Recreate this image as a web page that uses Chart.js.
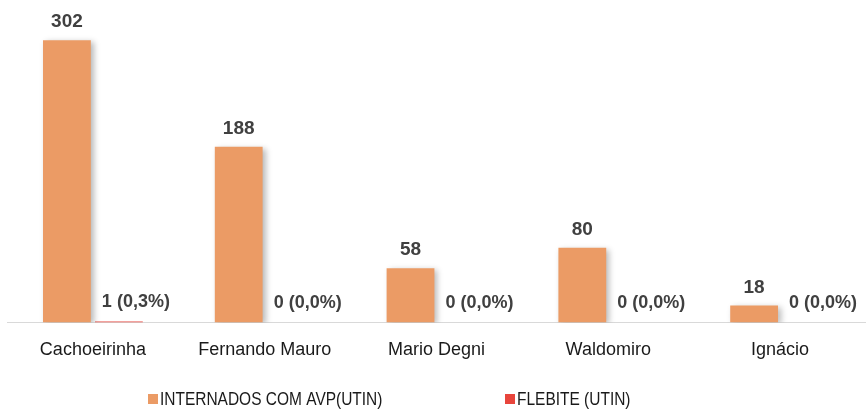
<!DOCTYPE html>
<html>
<head>
<meta charset="utf-8">
<script src="https://cdn.jsdelivr.net/npm/chart.js@4.4.1/dist/chart.umd.min.js"></script>
<style>
  html, body { margin: 0; padding: 0; background: #fff; }
  #wrap { width: 866px; height: 411px; }
</style>
</head>
<body>
<div id="wrap"><canvas id="chart"></canvas></div>
<script>
const categories = ['Cachoeirinha', 'Fernando Mauro', 'Mario Degni', 'Waldomiro', 'Ignácio'];
const internados = [302, 188, 58, 80, 18];
const flebite = [1, 0, 0, 0, 0];
const flebiteLabels = ['1 (0,3%)', '0 (0,0%)', '0 (0,0%)', '0 (0,0%)', '0 (0,0%)'];
const seriesNames = ['INTERNADOS COM AVP(UTIN)', 'FLEBITE (UTIN)'];

const FONT = "'Liberation Sans', Arial, sans-serif";

// soft shadow behind the orange bars
const barShadow = {
    id: 'barShadow',
    beforeDatasetDraw(chart, args) {
        if (args.index !== 0) return;
        const ctx = chart.ctx;
        ctx.save();
        ctx.shadowColor = 'rgba(0,0,0,0.28)';
        ctx.shadowBlur = 6;
        ctx.shadowOffsetX = 3;
        ctx.shadowOffsetY = 2;
    },
    afterDatasetDraw(chart, args) {
        if (args.index !== 0) return;
        chart.ctx.restore();
    }
};

// value labels above the bars
const valueLabels = {
    id: 'valueLabels',
    afterDatasetsDraw(chart) {
        const ctx = chart.ctx;
        ctx.save();
        ctx.font = 'bold 19px ' + FONT;
        ctx.fillStyle = '#404040';
        ctx.textAlign = 'center';
        ctx.textBaseline = 'middle';
        chart.getDatasetMeta(0).data.forEach((bar, i) => {
            ctx.fillText(String(internados[i]), bar.x, bar.y - 18);
        });
        ctx.font = 'bold 18px ' + FONT;
        chart.getDatasetMeta(1).data.forEach((bar, i) => {
            ctx.fillText(flebiteLabels[i], bar.x + 17, bar.y - 19);
        });
        ctx.restore();
    }
};

// legend drawn at the bottom (text a bit condensed like the original)
const bottomLegend = {
    id: 'bottomLegend',
    afterDraw(chart) {
        const ctx = chart.ctx;
        const xs = [148, 505];
        const y = 400;
        const sx = 0.86;
        ctx.save();
        ctx.font = '18px ' + FONT;
        ctx.textBaseline = 'middle';
        ctx.textAlign = 'left';
        chart.data.datasets.forEach((ds, i) => {
            ctx.fillStyle = ds.backgroundColor;
            ctx.fillRect(xs[i], y - 6, 10, 10);
            ctx.save();
            ctx.translate(xs[i] + 12, y);
            ctx.scale(sx, 1);
            ctx.fillStyle = '#1a1a1a';
            ctx.fillText(ds.label, 0, 0);
            ctx.restore();
        });
        ctx.restore();
    }
};

new Chart(document.getElementById('chart'), {
    type: 'bar',
    data: {
        labels: categories,
        datasets: [{
            label: seriesNames[0],
            data: internados,
            backgroundColor: '#EB9B65',
            categoryPercentage: 0.605,
            barPercentage: 0.92
        }, {
            label: seriesNames[1],
            data: flebite,
            backgroundColor: '#E8453C',
            categoryPercentage: 0.605,
            barPercentage: 0.92
        }]
    },
    options: {
        responsive: true,
        maintainAspectRatio: false,
        animation: false,
        layout: { padding: { top: 0, left: 7, right: 0, bottom: 33 } },
        plugins: {
            legend: { display: false },
            tooltip: { enabled: false }
        },
        scales: {
            x: {
                grid: { display: false, drawTicks: false },
                border: { display: true, color: '#d9d9d9', width: 1 },
                ticks: {
                    padding: 17,
                    color: '#1a1a1a',
                    font: { family: FONT, size: 18 }
                }
            },
            y: {
                display: false,
                min: 0,
                max: 345
            }
        }
    },
    plugins: [barShadow, valueLabels, bottomLegend]
});
</script>
</body>
</html>
